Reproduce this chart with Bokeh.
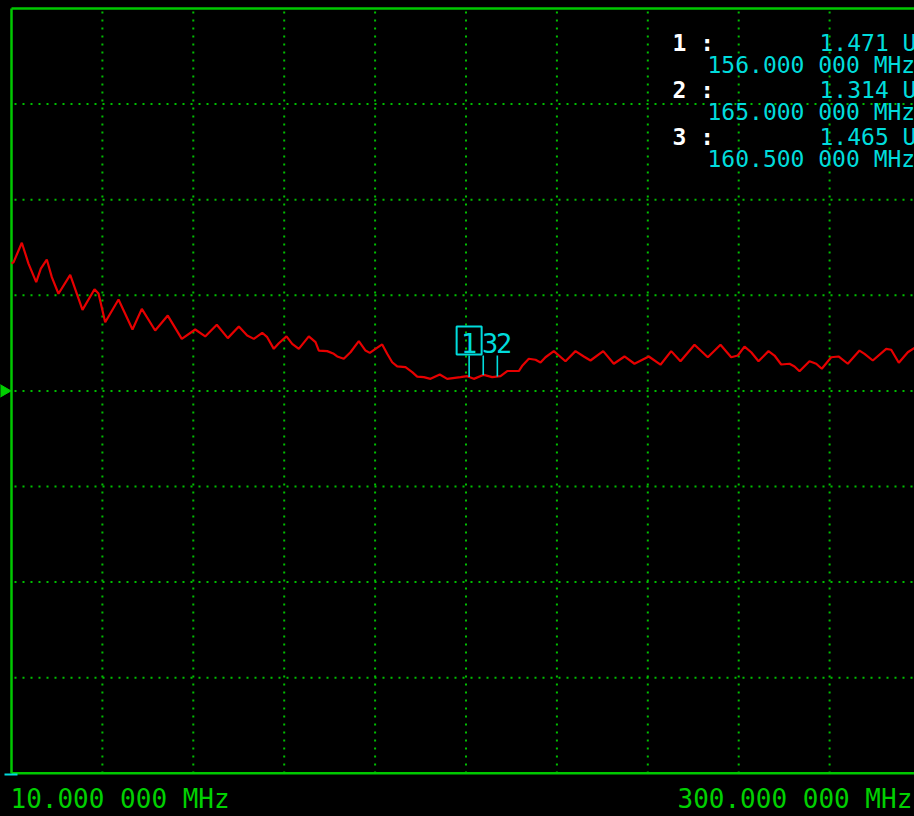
import numpy as np
from bokeh.plotting import figure
from bokeh.models import Range1d
from bokeh.core.properties import value
from bokeh.embed import file_html
from bokeh.resources import INLINE

# ---------------- data ----------------
freq_mhz = [10.00, 10.64, 13.29, 15.42, 17.88, 19.35, 21.26, 22.86, 24.99, 28.73,
            32.65, 36.48, 37.76, 39.89, 44.14, 48.60, 51.57, 55.84, 59.86, 64.33,
            68.61, 71.80, 75.50, 79.01, 82.52, 85.20, 87.30, 89.98, 91.58, 93.68,
            95.28, 97.73, 99.55, 101.66, 104.85, 106.99, 108.04, 110.72, 112.82, 113.91,
            116.01, 118.15, 120.80, 122.94, 124.31, 126.13, 128.26, 129.86, 131.45, 133.05,
            135.70, 137.84, 139.43, 141.54, 143.67, 146.64, 149.00, 153.24, 155.38, 157.49,
            160.68, 163.36, 166.01, 168.15, 171.85, 173.03, 175.04, 177.18, 178.77, 180.36,
            183.01, 186.74, 189.93, 192.58, 194.72, 198.77, 202.15, 205.56, 208.75, 213.32,
            217.05, 220.46, 223.43, 227.90, 232.14, 236.19, 239.61, 241.71, 243.85, 245.99,
            248.32, 251.51, 253.42, 255.56, 258.21, 259.80, 261.40, 264.59, 266.73, 268.51,
            271.51, 273.84, 276.81, 280.54, 282.14, 284.78, 289.06, 290.65, 293.08, 295.95,
            298.09, 300.00]
swr = [2.066, 2.072, 2.175, 2.066, 1.969, 2.040, 2.087, 1.995, 1.908, 2.007,
       1.824, 1.932, 1.909, 1.759, 1.878, 1.721, 1.829, 1.716, 1.794, 1.672,
       1.721, 1.685, 1.746, 1.676, 1.737, 1.690, 1.672, 1.704, 1.681, 1.620,
       1.649, 1.685, 1.646, 1.620, 1.685, 1.655, 1.611, 1.608, 1.594, 1.580,
       1.568, 1.602, 1.660, 1.611, 1.599, 1.620, 1.643, 1.594, 1.550, 1.528,
       1.524, 1.498, 1.475, 1.472, 1.463, 1.486, 1.463, 1.472, 1.477, 1.463,
       1.484, 1.472, 1.477, 1.504, 1.504, 1.533, 1.568, 1.563, 1.549, 1.576,
       1.608, 1.555, 1.608, 1.580, 1.559, 1.608, 1.542, 1.580, 1.542, 1.580,
       1.537, 1.608, 1.555, 1.641, 1.576, 1.641, 1.576, 1.585, 1.632, 1.602,
       1.555, 1.608, 1.585, 1.538, 1.542, 1.528, 1.503, 1.555, 1.542, 1.516,
       1.576, 1.580, 1.542, 1.611, 1.594, 1.559, 1.620, 1.615, 1.547, 1.602,
       1.625, 1.600]

marker_ids = ["1", "2", "3"]
marker_freq = [156.0, 165.0, 160.5]
marker_val = ["1.471 U", "1.314 U", "1.465 U"]
marker_freq_txt = ["156.000 000 MHz", "165.000 000 MHz", "160.500 000 MHz"]
start_label = "10.000 000 MHz"
stop_label = "300.000 000 MHz"

F_START, F_STOP = 10.0, 300.0
REF_SWR, SWR_PER_DIV = 1.4, 0.5
N_XDIV, N_YDIV = 10, 8

# ---------------- layout helpers (screen-pixel -> data) ----------------
PX_LEFT, PX_DIVX = 11.0, 90.9
PX_REF, PX_DIVY = 390.4, 95.6
TXT_DY = -9  # baseline correction for text glyphs
def fx(px):
    return F_START + (px - PX_LEFT) * (F_STOP - F_START) / (N_XDIV * PX_DIVX)
def sy(py):
    return REF_SWR + (PX_REF - py) * SWR_PER_DIV / PX_DIVY
def ty(py):
    return sy(py + TXT_DY)

W, H = 914, 816
p = figure(width=W, height=H, output_backend="svg", toolbar_location=None,
           x_axis_type=None, y_axis_type=None,
           x_range=Range1d(fx(0), fx(W)), y_range=Range1d(sy(H), sy(0)),
           min_border=0, min_border_left=0, min_border_right=0,
           min_border_top=0, min_border_bottom=0)
p.grid.visible = False
p.outline_line_color = None
p.background_fill_color = "#000000"
p.border_fill_color = "#000000"

GREEN = "#00C800"
DOT = "#00BE00"
CYAN = "#00DCDC"
RED = "#E60000"
MONO = value("DejaVu Sans Mono")

s_bot = REF_SWR - SWR_PER_DIV * N_YDIV / 2
s_top = REF_SWR + SWR_PER_DIV * N_YDIV / 2

# dotted grid
vx = [F_START + k * (F_STOP - F_START) / N_XDIV for k in range(1, N_XDIV)]
p.segment(x0=vx, y0=[s_top] * len(vx), x1=vx, y1=[s_bot] * len(vx),
          line_color=DOT, line_width=2, line_dash="2 6", line_dash_offset=-3)
hy = [s_bot + k * SWR_PER_DIV for k in range(1, N_YDIV)]
p.segment(x0=[F_START] * len(hy), y0=hy, x1=[F_STOP] * len(hy), y1=hy,
          line_color=DOT, line_width=2, line_dash="2 6", line_dash_offset=-3)

# frame
p.segment(x0=[F_START, F_START, F_START], y0=[s_bot, s_top, s_bot],
          x1=[F_START, F_STOP, F_STOP], y1=[s_top, s_top, s_bot],
          line_color=GREEN, line_width=2.5)
# cyan stub at bottom-left corner
p.segment(x0=[fx(4)], y0=[sy(774)], x1=[fx(17)], y1=[sy(774)], line_color=CYAN, line_width=2)
# reference-level arrow on the left edge
p.scatter(x=[fx(3)], y=[REF_SWR], marker="triangle", size=13, angle=-np.pi / 2,
          fill_color="#00D000", line_color="#00D000")

# trace
p.line(freq_mhz, swr, line_color=RED, line_width=2.2)

# markers
m_trace = [float(np.interp(f, freq_mhz, swr)) for f in marker_freq]
p.segment(x0=marker_freq, y0=[sy(355)] * 3, x1=marker_freq, y1=m_trace,
          line_color=CYAN, line_width=1.6)
half = (fx(480) - fx(455)) / 2
p.quad(left=[marker_freq[0] - half], right=[marker_freq[0] + half],
       top=[sy(326)], bottom=[sy(354)], fill_color=None, line_color=CYAN, line_width=2)
p.text(x=[marker_freq[0]], y=[ty(351)], text=[marker_ids[0]], text_font=MONO,
       text_font_size="27px", text_color=CYAN, text_align="center", text_baseline="alphabetic")
p.text(x=[marker_freq[2] - 0.4, marker_freq[1] - 0.4], y=[ty(351)] * 2,
       text=[marker_ids[2], marker_ids[1]], text_font=MONO,
       text_font_size="27px", text_color=CYAN, text_align="left", text_baseline="alphabetic")

# marker readout (top right)
row_base = [51, 98, 145]
p.text(x=[fx(672)] * 3, y=[ty(b) for b in row_base], text=[m + " :" for m in marker_ids],
       text_font=MONO, text_font_size="23px", text_font_style="bold", text_color="#FFFFFF",
       text_baseline="alphabetic")
p.text(x=[fx(819)] * 3, y=[ty(b) for b in row_base], text=marker_val,
       text_font=MONO, text_font_size="23px", text_color=CYAN, text_baseline="alphabetic")
p.text(x=[fx(707)] * 3, y=[ty(b + 22) for b in row_base], text=marker_freq_txt,
       text_font=MONO, text_font_size="23px", text_color=CYAN, text_baseline="alphabetic")

# start / stop labels
p.text(x=[fx(10), fx(677)], y=[ty(807)] * 2, text=[start_label, stop_label],
       text_font=MONO, text_font_size="26px", text_color="#00D000", text_baseline="alphabetic")

html = file_html(p, INLINE)
html = html.replace("<head>", "<head><style>body{background:#000000;}</style>", 1)
open("out.html", "w").write(html)
